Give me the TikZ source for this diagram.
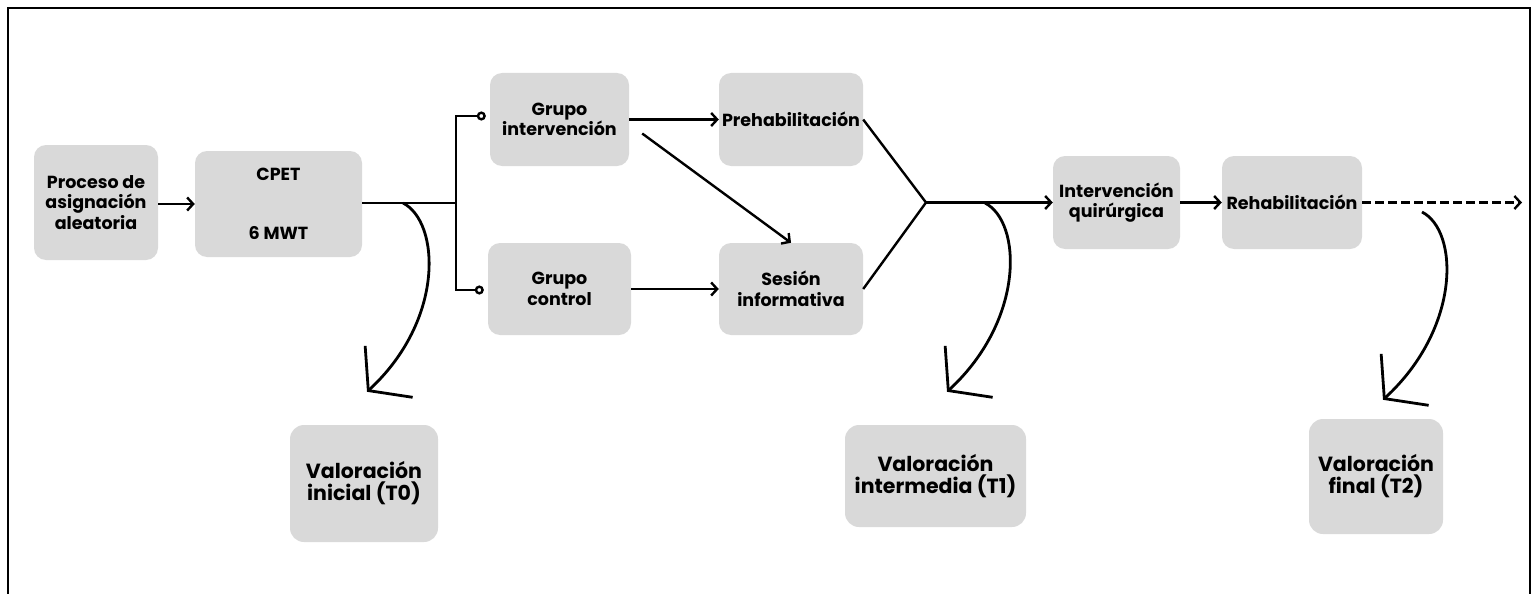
\documentclass[tikz,border=0pt]{standalone}
\usepackage{fontspec}
\setmainfont{Poppins}
\usetikzlibrary{arrows.meta}
\definecolor{boxgray}{HTML}{D9D9D9}

\begin{document}
\begin{tikzpicture}[x=1pt,y=-1pt,
	box/.style={fill=boxgray,rounded corners=12pt,align=center,inner sep=0pt,font=\fontsize{17.5}{20.5}\selectfont\bfseries},
	bigbox/.style={box,rounded corners=14pt,font=\fontsize{20.5}{22}\selectfont\bfseries},
	link/.style={line width=2.4pt},
	flow/.style={link,-{Straight Barb[length=6pt,width=13pt]}},
	branch/.style={link,-{Circle[open,length=9pt,width=9pt]}},
	measure/.style={line width=2.8pt,-{Straight Barb[length=28pt,width=70pt]}}]
		\useasboundingbox (0,0) rectangle (1531,594);
		\draw[line width=2.5pt] (8,594) -- (8,8) -- (1530,8) -- (1530,594);
		\node[box,minimum width=124pt,minimum height=115pt] (proceso) at (96,202.5) {Proceso de\\asignación\\aleatoria};
		\node[box,minimum width=167pt,minimum height=106pt] (cpet) at (278.5,204) {CPET\\[39pt]6 MWT};
		\node[box,minimum width=139pt,minimum height=93pt] (gint) at (559.5,119.5) {Grupo\\intervención};
		\node[box,minimum width=143pt,minimum height=92pt] (gctrl) at (559.5,289) {Grupo\\control};
		\node[box,minimum width=144pt,minimum height=93pt] (prehab) at (791,119.5) {Prehabilitación};
		\node[box,minimum width=144pt,minimum height=92pt] (sesion) at (791,289) {Sesión\\informativa};
		\node[box,minimum width=127pt,minimum height=93pt] (interv) at (1116.5,202.5) {Intervención\\quirúrgica};
		\node[box,minimum width=140pt,minimum height=93pt] (rehab) at (1292,202.5) {Rehabilitación};
		\node[bigbox,minimum width=148pt,minimum height=117pt] (val0) at (364,483.5) {Valoración\\inicial (T0)};
		\node[bigbox,minimum width=181pt,minimum height=102pt] (val1) at (935.5,476) {Valoración\\intermedia (T1)};
		\node[bigbox,minimum width=134pt,minimum height=115pt] (val2) at (1376,476.5) {Valoración\\final (T2)};
		\coordinate (split) at (456,203);
		\coordinate (merge) at (926,202.5);
		\coordinate (fin) at (1522,202.5);
		\coordinate (t0) at (403,203);
		\coordinate (t1) at (985,203);
		\coordinate (t2) at (1422,212);
		\draw[flow] (proceso.east |- cpet) -- (cpet.west);
		\draw[link] (cpet.east |- split) -- (split);
		\draw[branch] (split) |- ([shift={(-4,-3.5)}]gint.west);
		\draw[branch] (split) |- ([shift={(-4,1)}]gctrl.west);
		\draw[flow] (gint.east) -- (prehab.west);
		\draw[flow] ([shift={(13,14)}]gint.east) -- (sesion.north);
		\draw[flow] (gctrl.east) -- (sesion.west);
		\draw[link] (prehab.east) -- (merge) -- (sesion.east);
		\draw[flow] (merge) -- (interv.west);
		\draw[flow] (interv.east) -- (rehab.west);
		\draw[flow,dash pattern=on 9pt off 4pt] (rehab.east) -- (fin);
		\draw[measure] (t0) .. controls +(37,19) and +(78,-72) .. ([shift={(3,-33)}]val0.north);
		\draw[measure] (t1) .. controls +(37,19) and +(78,-72) .. ([shift={(11.5,-33)}]val1.north);
		\draw[measure] (t2) .. controls +(37,19) and +(78,-72) .. ([shift={(7,-19)}]val2.north);
	\end{tikzpicture}
\end{document}
